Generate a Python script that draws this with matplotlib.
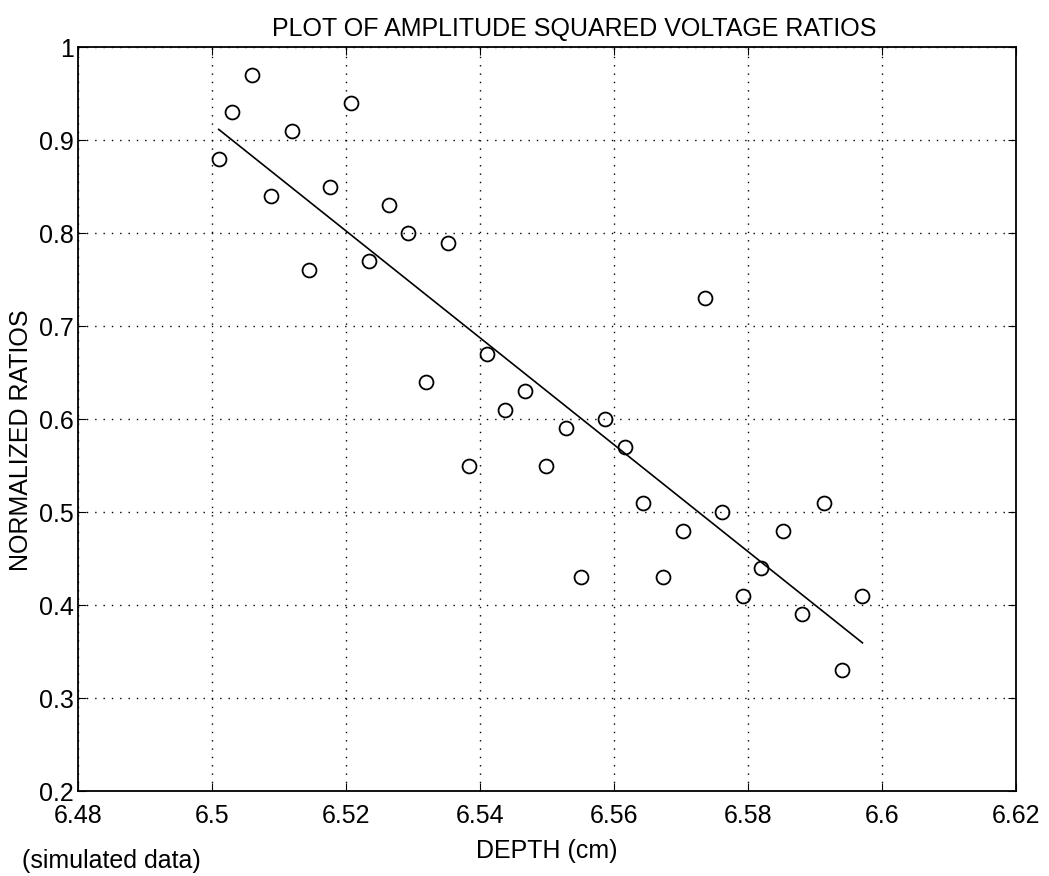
import numpy as np
import matplotlib
matplotlib.use('Agg')
import matplotlib.pyplot as plt

plt.rcParams['font.family'] = ['Liberation Sans', 'DejaVu Sans']

# profundidad (cm) y cocientes normalizados
depth = [6.501, 6.503, 6.506, 6.5088, 6.5119, 6.5145, 6.5176, 6.5208, 6.5234,
         6.5264, 6.5293, 6.532, 6.5352, 6.5383, 6.5411, 6.5438, 6.5467, 6.5498,
         6.5528, 6.5551, 6.5587, 6.5616, 6.5644, 6.5673, 6.5703, 6.5736, 6.5762,
         6.5792, 6.582, 6.5852, 6.5881, 6.5913, 6.594, 6.5971]
ratios = [0.88, 0.93, 0.97, 0.84, 0.91, 0.76, 0.85, 0.94, 0.77,
          0.83, 0.80, 0.64, 0.79, 0.55, 0.67, 0.61, 0.63, 0.55,
          0.59, 0.43, 0.60, 0.57, 0.51, 0.43, 0.48, 0.73, 0.50,
          0.41, 0.44, 0.48, 0.39, 0.51, 0.33, 0.41]

xticks = [6.48, 6.5, 6.52, 6.54, 6.56, 6.58, 6.6, 6.62]
xticklabels = ['6.48', '6.5', '6.52', '6.54', '6.56', '6.58', '6.6', '6.62']
yticks = [0.2, 0.3, 0.4, 0.5, 0.6, 0.7, 0.8, 0.9, 1.0]
yticklabels = ['0.2', '0.3', '0.4', '0.5', '0.6', '0.7', '0.8', '0.9', '1']

x = np.array(depth)
y = np.array(ratios)
# recta de ajuste por minimos cuadrados
m, b = np.polyfit(x, y, 1)
xl = np.array([x.min(), x.max()])

fig = plt.figure(figsize=(10.49, 8.76), dpi=100)
ax = fig.add_axes([0.0744, 0.097, 0.894, 0.849])

ax.plot(x, y, 'o', mfc='none', mec='black', ms=10, mew=1.3)
ax.plot(xl, m * xl + b, '-', color='black', lw=1.2)

ax.set_xlim(6.48, 6.62)
ax.set_ylim(0.2, 1.0)
ax.set_xticks(xticks)
ax.set_xticklabels(xticklabels)
ax.set_yticks(yticks)
ax.set_yticklabels(yticklabels)
ax.tick_params(direction='in', length=6, labelsize=18, top=True, right=True,
               labeltop=False, labelright=False)
ax.tick_params(axis='x', pad=9)
ax.tick_params(axis='y', pad=3)
ax.grid(True, linestyle=(0, (1, 5)), color='black', lw=1)
for s in ax.spines.values():
    s.set_linewidth(1.3)

ax.set_title('PLOT OF AMPLITUDE SQUARED VOLTAGE RATIOS', fontsize=18,
             x=0.529, pad=8)
ax.set_xlabel('DEPTH (cm)', fontsize=18)
ax.xaxis.set_label_coords(0.5, -0.064)
ax.set_ylabel('NORMALIZED RATIOS', fontsize=18)
ax.yaxis.set_label_coords(-0.048, 0.472)
fig.text(0.021, 0.017, '(simulated data)', fontsize=18, va='center', ha='left')

plt.savefig('out.png', dpi=100)
